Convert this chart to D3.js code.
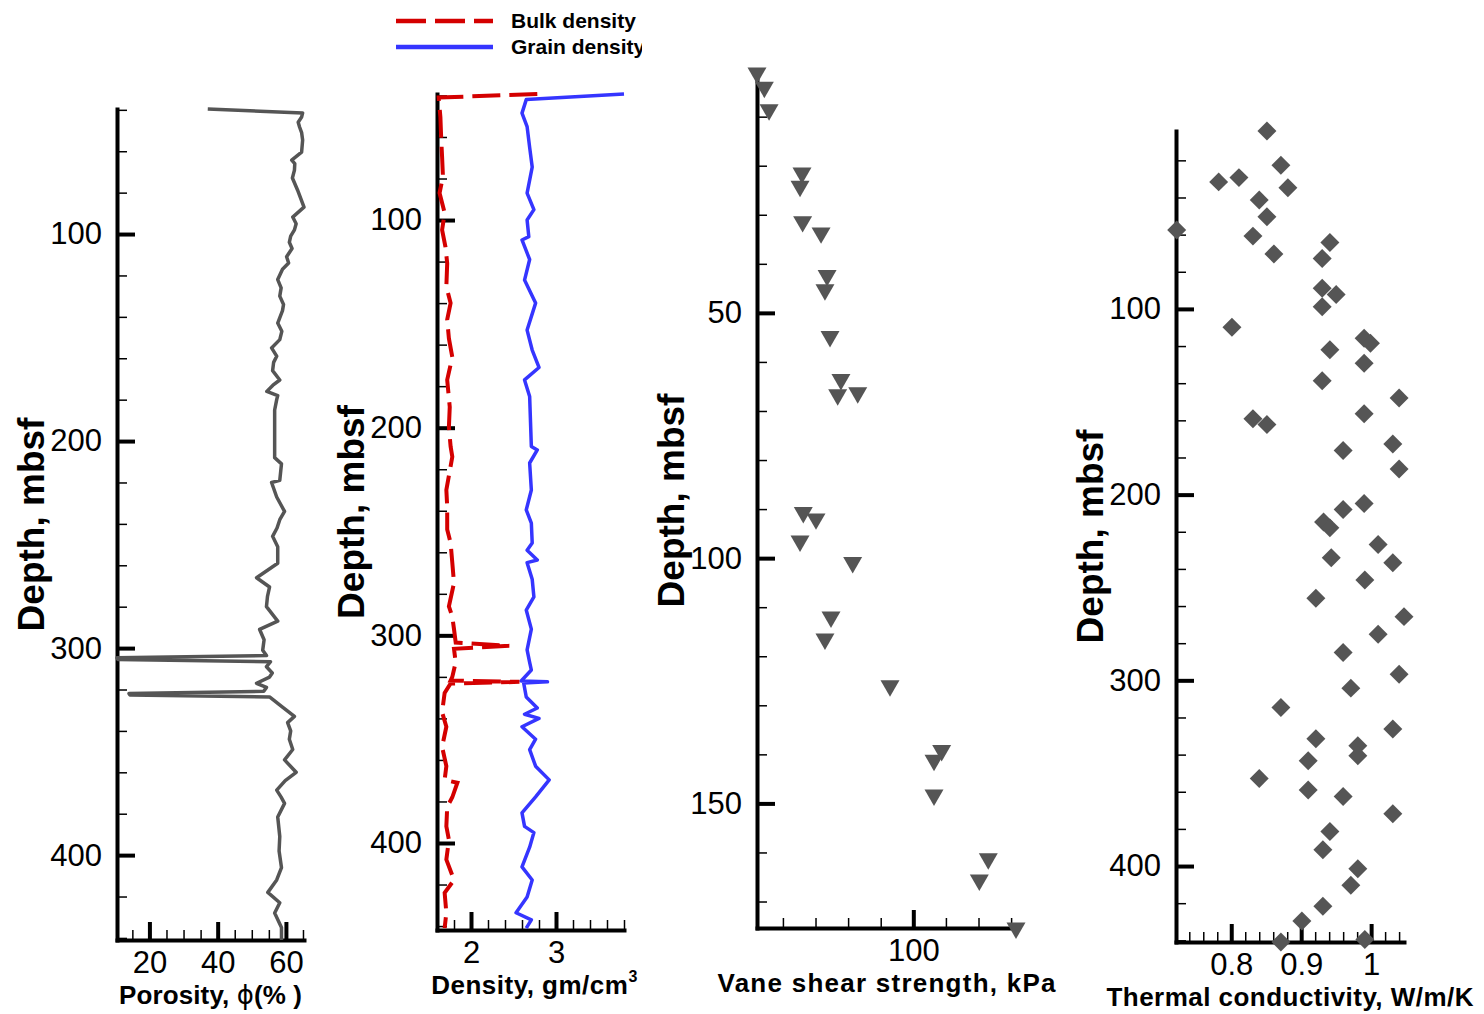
<!DOCTYPE html>
<html>
<head>
<meta charset="utf-8">
<script src="https://cdn.jsdelivr.net/npm/d3@7"></script>
<style>
  html, body { margin: 0; padding: 0; background: #fff; }
  svg { display: block; font-family: "Liberation Sans", Arial, sans-serif; }
</style>
</head>
<body>
<svg id="chart" width="1484" height="1014"></svg>
<script>
// ---------------- data: [depth (mbsf), value] ----------------
const porosityProfile = [
  [39.6, 37.1], [41.5, 64.9], [43.5, 64.6], [46, 63.6], [48.3, 64.0], [51, 64.6], [54.6, 64.9], [60.4, 64.6],
  [64.3, 61.7], [66, 62.6], [69.1, 62.5], [72.9, 61.9], [78.7, 63.4], [87, 65.3], [91.8, 62.0],
  [95, 63.0], [98, 62.5], [101, 61.4], [104, 61.0], [107, 61.8], [111, 60.2], [114, 60.8], [117, 59.0],
  [122, 57.6], [126, 58.6], [130, 58.2], [134, 59.3], [137, 59.0], [143, 57.6], [147, 58.8],
  [151, 58.2], [155, 55.8], [159, 57.3], [162, 56.4], [166, 56.1],
  [170.5, 58.2], [173, 56.2], [176, 54.4], [178, 57.6], [180, 57.3], [185, 56.7], [190, 56.7], [208, 56.7],
  [211, 58.7], [219, 58.2], [220, 55.8], [227, 57.3], [234, 59.6], [238, 58.2],
  [242, 57.4], [246, 56.1], [251, 57.6], [259, 57.6], [266, 51.4], [270.5, 55.2], [275, 54.6], [280, 54.3],
  [287, 57.6], [291, 52.3], [296, 53.6], [301, 53.2], [303.6, 54.3], [304.7, 10.5], [305.5, 10.8], [306.6, 55.5],
  [309, 54.3], [312, 56.0], [314, 55.2], [317, 51.4], [319, 54.3], [320.9, 53.5], [321.9, 14.0], [322.6, 14.3],
  [323.6, 55.2], [328.5, 59.0], [333, 62.5], [336, 60.5], [340, 61.4], [344, 61.0], [349, 62.0],
  [354, 59.6], [360, 63.0], [364, 59.8], [368.6, 57.3], [372, 58.6], [375, 59.6], [381.6, 57.6], [391, 58.2],
  [398, 58.0], [406, 58.7], [412, 57.3], [418, 54.7], [423, 58.2], [428, 56.7], [435, 58.7], [441, 58.7]
];

const bulkDensity = [
  [39.3, 2.78], [41.0, 1.62], [50.4, 1.64], [61.5, 1.65], [69.7, 1.66], [79, 1.67],
  [87, 1.63], [96.6, 1.69], [104.8, 1.66], [113, 1.70], [120.8, 1.72], [132, 1.71],
  [140, 1.76], [148, 1.72], [157, 1.74], [166, 1.78], [177, 1.72], [190, 1.75],
  [199.7, 1.74], [209, 1.76], [214, 1.78], [230, 1.71], [238, 1.72], [249, 1.72],
  [255.5, 1.76], [265, 1.78], [274.8, 1.80], [286, 1.74], [291, 1.78], [297, 1.80],
  [303.5, 1.82], [305, 2.45], [306.5, 1.80], [313, 1.82], [320, 1.78], [321.8, 1.76],
  [322.4, 2.57], [323.2, 1.76], [327.7, 1.69], [337, 1.66], [344, 1.71], [353.7, 1.66],
  [363, 1.71], [369.6, 1.69], [371, 1.84], [378, 1.78], [382.6, 1.72], [392, 1.71],
  [398.5, 1.74], [408, 1.71], [417.8, 1.80], [424, 1.69], [433.6, 1.71], [441, 1.69]
];

const grainDensity = [
  [39.3, 3.80], [42, 2.65], [48.5, 2.60], [55, 2.66], [65, 2.69], [74.5, 2.72],
  [87, 2.66], [95, 2.74], [100, 2.66], [108, 2.68], [109.6, 2.60], [119, 2.69],
  [128.9, 2.63], [140, 2.76], [153, 2.66], [162.6, 2.72], [171, 2.80], [177, 2.63],
  [185, 2.69], [209, 2.71], [210.7, 2.78], [217, 2.69], [230, 2.71], [239.6, 2.65],
  [246, 2.71], [255.5, 2.72], [259, 2.66], [263.7, 2.78], [265, 2.66], [273, 2.72],
  [281.5, 2.74], [287.8, 2.65], [297, 2.71], [307, 2.66], [313, 2.69], [316.7, 2.71],
  [322, 2.59], [322.4, 2.90], [323, 2.62], [329.7, 2.65], [335, 2.78], [338, 2.63],
  [340, 2.80], [344, 2.60], [350, 2.76], [355, 2.69], [363, 2.76], [369.6, 2.92],
  [377.8, 2.76], [385.5, 2.60], [392, 2.63], [395, 2.74], [402, 2.69], [411.5, 2.60],
  [417.8, 2.72], [426, 2.66], [433.6, 2.53], [437, 2.71], [441, 2.65]
];

const vaneShear = [
  [1.1, 4.1], [4.0, 8.6], [8.6, 11.5], [21.5, 31.7], [24.2, 30.5], [31.4, 32.1],
  [33.7, 43.4], [42.4, 47.1], [45.3, 45.8], [54.8, 48.9], [63.6, 55.6], [66.7, 53.6],
  [66.3, 65.9], [90.7, 32.5], [92, 40.3], [96.5, 30.5], [100.9, 62.8], [112, 49.5],
  [116.5, 45.8], [126, 85.7], [139.2, 117.4], [141.2, 112.7], [148.3, 112.7],
  [161.3, 146], [165.6, 140.5], [175.4, 163]
];

const thermalConductivity = [
  [4.2, 0.851], [22.6, 0.871], [31.6, 0.782], [29.3, 0.811], [34.8, 0.881], [41.4, 0.840],
  [50.4, 0.851], [57.5, 0.722], [60.8, 0.831], [70.4, 0.861], [64.2, 0.941], [72.8, 0.930],
  [88.9, 0.930], [92.2, 0.950], [98.8, 0.930], [109.9, 0.801], [115.8, 0.990], [118.5, 0.999],
  [122, 0.941], [129.2, 0.990], [138.7, 0.930], [148, 1.040], [156.4, 0.990], [159.1, 0.831],
  [162.3, 0.851], [176.3, 0.960], [172.7, 1.031], [186.2, 1.040], [208, 0.960], [204.8, 0.990],
  [214.7, 0.932], [217.9, 0.941], [226.8, 1.010], [234, 0.943], [236.7, 1.031], [246, 0.991],
  [255.8, 0.921], [265.7, 1.047], [275.2, 1.010], [285, 0.960], [296.7, 1.040], [304.2, 0.971],
  [314.6, 0.871], [326.2, 1.031], [331.4, 0.921], [335.2, 0.981], [340.6, 0.981], [343.3, 0.910],
  [352.8, 0.840], [359, 0.910], [362.6, 0.960], [371.9, 1.031], [381.4, 0.941], [391.2, 0.931],
  [401.4, 0.981], [410.4, 0.971], [421.7, 0.931], [429.6, 0.901], [440.9, 0.871], [439.6, 0.991]
];

// axis ranges and labelled ticks
const porosityRange = [10.5, 65.3];
const porosityTicks = [20, 40, 60];
const densityRange = [1.6, 3.8];
const densityTicks = [2, 3];
const vaneRange = [4.1, 163];
const vaneTicks = [100];
const thermalRange = [0.721, 1.047];
const thermalTicks = [0.8, 0.9, 1];

const depthRangeA = [39.6, 441];
const depthRangeB = [39.3, 441.9];
const depthRangeC = [1.1, 175.4];
const depthRangeD = [4.2, 440.9];
const depthTicks = [100, 200, 300, 400];
const vaneDepthTicks = [50, 100, 150];

const seriesNames = ["Bulk density", "Grain density"];

// ---------------- layout ----------------
const svg = d3.select("#chart");
const FONT = '"Liberation Sans", Arial, sans-serif';

const panels = [
  { key: "por", left: 117, right: 304, top: 109, bottom: 940,
    xDom: porosityRange, yDom: depthRangeA, xMajor: porosityTicks, xStep: 5,
    yMajor: depthTicks, yStep: 20, titleLen: 183 },
  { key: "den", left: 437, right: 624, top: 94, bottom: 930,
    xDom: densityRange, yDom: depthRangeB, xMajor: densityTicks, xStep: 0.2,
    yMajor: depthTicks, yStep: 20 },
  { key: "vane", left: 757, right: 1016, top: 73, bottom: 928,
    xDom: vaneRange, yDom: depthRangeC, xMajor: vaneTicks, xStep: 20,
    yMajor: vaneDepthTicks, yStep: 10, titleLen: 338 },
  { key: "tc", left: 1176, right: 1404, top: 131, bottom: 942,
    xDom: thermalRange, yDom: depthRangeD, xMajor: thermalTicks, xStep: 0.02,
    yMajor: depthTicks, yStep: 20, titleLen: 367 }
];

function minorTicks(dom, step, major) {
  const lo = Math.ceil(dom[0] / step - 1e-9), hi = Math.floor(dom[1] / step + 1e-9);
  const out = [];
  for (let i = lo; i <= hi; i++) {
    const v = +(i * step).toFixed(6);
    if (!major.some(m => Math.abs(m - v) < 1e-6)) out.push(v);
  }
  return out;
}

panels.forEach(p => {
  p.x = d3.scaleLinear().domain(p.xDom).range([p.left, p.right]);
  p.y = d3.scaleLinear().domain(p.yDom).range([p.top, p.bottom]);
  p.g = svg.append("g").attr("class", "panel-" + p.key);
});

function styleAxis(sel, width) {
  sel.attr("font-family", FONT).attr("font-size", 31);
  sel.selectAll(".tick line").attr("stroke", "#000").attr("stroke-width", width);
  sel.selectAll(".tick text").attr("fill", "#000");
}

function drawAxes(p) {
  const g = p.g.append("g").attr("class", "axes");
  // minor ticks
  g.append("g").attr("transform", `translate(${p.left},0)`)
    .call(d3.axisLeft(p.y).tickValues(minorTicks(p.yDom, p.yStep, p.yMajor))
      .tickSize(-10).tickSizeOuter(0).tickFormat(""))
    .call(s => { s.select(".domain").remove(); styleAxis(s, 1.5); });
  g.append("g").attr("transform", `translate(0,${p.bottom})`)
    .call(d3.axisBottom(p.x).tickValues(minorTicks(p.xDom, p.xStep, p.xMajor))
      .tickSize(-10).tickSizeOuter(0).tickFormat(""))
    .call(s => { s.select(".domain").remove(); styleAxis(s, 1.5); });
  // major ticks with labels
  g.append("g").attr("transform", `translate(${p.left},0)`)
    .call(d3.axisLeft(p.y).tickValues(p.yMajor).tickSize(-18).tickSizeOuter(0)
      .tickPadding(15).tickFormat(d3.format("d")))
    .call(s => {
      styleAxis(s, 4);
      s.select(".domain").attr("stroke", "#000").attr("stroke-width", 4).attr("stroke-linecap", "square");
    });
  g.append("g").attr("transform", `translate(0,${p.bottom})`)
    .call(d3.axisBottom(p.x).tickValues(p.xMajor).tickSize(-18).tickSizeOuter(0)
      .tickPadding(11).tickFormat(d => String(d)))
    .call(s => {
      styleAxis(s, 4);
      s.select(".domain").attr("stroke", "#000").attr("stroke-width", 4).attr("stroke-linecap", "square");
    });

  // depth title
  p.g.append("text")
    .attr("transform", `translate(${p.left - 73},${(p.top + p.bottom) / 2}) rotate(-90)`)
    .attr("text-anchor", "middle")
    .attr("font-family", FONT).attr("font-size", 37).attr("font-weight", "bold")
    .text("Depth, mbsf");
}

panels.forEach(drawAxes);

// x-axis titles
function xTitle(p, len) {
  const t = p.g.append("text")
    .attr("x", (p.left + p.right) / 2).attr("y", p.bottom + 64)
    .attr("text-anchor", "middle")
    .attr("font-family", FONT).attr("font-size", 26).attr("font-weight", "bold");
  if (len) t.attr("textLength", len).attr("lengthAdjust", "spacing");
  return t;
}
{
  const t = xTitle(panels[0], panels[0].titleLen);
  t.append("tspan").text("Porosity, ");
  t.append("tspan").attr("font-weight", "normal").attr("font-family", '"DejaVu Sans", ' + FONT).text("\u03D5");
  t.append("tspan").text("(% )");
}
{
  const t = xTitle(panels[1], null).attr("letter-spacing", 0.5).attr("x", (panels[1].left + panels[1].right) / 2 + 4);
  t.append("tspan").text("Density, gm/cm");
  t.append("tspan").attr("font-size", 16).attr("dy", -12).text("3");
}
xTitle(panels[2], panels[2].titleLen).text("Vane shear strength, kPa");
xTitle(panels[3], panels[3].titleLen).text("Thermal conductivity, W/m/K");

// ---------------- marks ----------------
const GRAY = "#555555", RED = "#d40000", BLUE = "#3535ff";

// porosity profile
{
  const p = panels[0];
  const line = d3.line().x(d => p.x(d[1])).y(d => p.y(d[0]));
  p.g.append("path").datum(porosityProfile)
    .attr("d", line).attr("fill", "none")
    .attr("stroke", GRAY).attr("stroke-width", 3.5).attr("stroke-linejoin", "round");
}

// density profiles
{
  const p = panels[1];
  const line = d3.line().x(d => p.x(d[1])).y(d => p.y(d[0]));
  p.g.append("path").datum(grainDensity)
    .attr("d", line).attr("fill", "none")
    .attr("stroke", BLUE).attr("stroke-width", 3.5).attr("stroke-linejoin", "round");
  p.g.append("path").datum(bulkDensity)
    .attr("d", line).attr("fill", "none")
    .attr("stroke", RED).attr("stroke-width", 4).attr("stroke-dasharray", "28,9");
}

// vane shear strength: downward triangles
{
  const p = panels[2];
  const tri = d3.symbol().type(d3.symbolTriangle).size(156)();
  p.g.append("g").selectAll("path").data(vaneShear).join("path")
    .attr("d", tri)
    .attr("transform", d => `translate(${p.x(d[1])},${p.y(d[0])}) rotate(180)`)
    .attr("fill", GRAY);
}

// thermal conductivity: diamonds
{
  const p = panels[3];
  const sq = d3.symbol().type(d3.symbolSquare).size(180)();
  p.g.append("g").selectAll("path").data(thermalConductivity).join("path")
    .attr("d", sq)
    .attr("transform", d => `translate(${p.x(d[1])},${p.y(d[0])}) rotate(45)`)
    .attr("fill", GRAY);
}

// ---------------- legend ----------------
{
  svg.append("clipPath").attr("id", "legend-clip")
    .append("rect").attr("x", 380).attr("y", 0).attr("width", 262).attr("height", 70);
  const lg = svg.append("g").attr("clip-path", "url(#legend-clip)");
  const rows = [
    { name: seriesNames[0], color: RED, dash: "30,9", y: 21 },
    { name: seriesNames[1], color: BLUE, dash: null, y: 47 }
  ];
  rows.forEach(r => {
    lg.append("line").attr("x1", 396).attr("x2", 493).attr("y1", r.y).attr("y2", r.y)
      .attr("stroke", r.color).attr("stroke-width", 4.5)
      .attr("stroke-dasharray", r.dash);
    lg.append("text").attr("x", 511).attr("y", r.y + 7)
      .attr("font-family", FONT).attr("font-size", 21).attr("font-weight", "bold")
      .text(r.name);
  });
}
</script>
</body>
</html>
